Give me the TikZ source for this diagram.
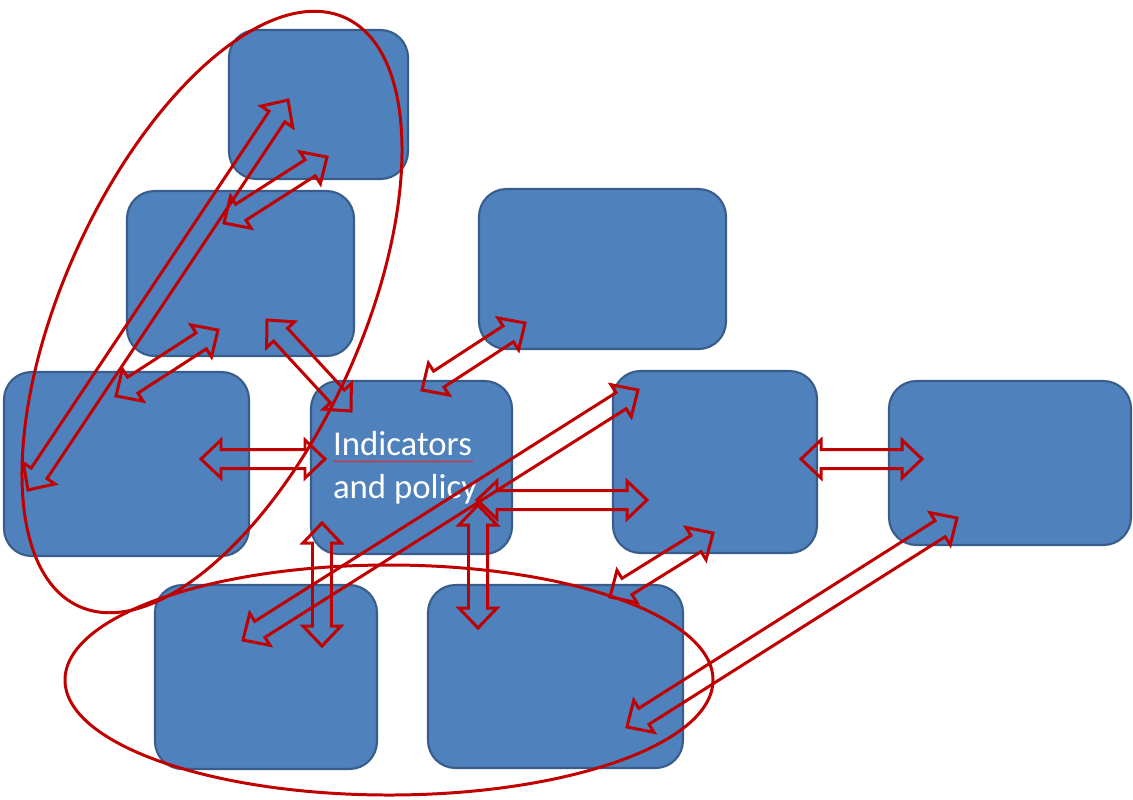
\documentclass[tikz,border=0pt]{standalone}
\usepackage{fontspec}
\setmainfont{Carlito}
\usetikzlibrary{calc,shapes.geometric,decorations.pathmorphing}

\definecolor{boxblue}{HTML}{4F81BD}
\definecolor{boxedge}{HTML}{385D8A}
\definecolor{linkred}{HTML}{C00000}

% outlined two-headed block arrow between two points
\newcommand{\dblarrow}[3]{%
  \coordinate (#1a) at #2;
  \coordinate (#1b) at #3;
  \coordinate (#1p) at ($(#1a)!0.4cm!(#1b)$);
  \coordinate (#1q) at ($(#1b)!0.4cm!(#1a)$);
  \draw[link] (#1a)
    -- ($(#1p)!0.38cm!90:(#1b)$) -- ($(#1p)!0.19cm!90:(#1b)$)
    -- ($(#1q)!0.19cm!-90:(#1a)$) -- ($(#1q)!0.38cm!-90:(#1a)$)
    -- (#1b)
    -- ($(#1q)!0.38cm!90:(#1a)$) -- ($(#1q)!0.19cm!90:(#1a)$)
    -- ($(#1p)!0.19cm!-90:(#1b)$) -- ($(#1p)!0.38cm!-90:(#1b)$)
    -- cycle;}

\begin{document}
\begin{tikzpicture}[
  box/.style={rectangle, rounded corners=0.55cm, draw=boxedge, line width=1.2pt, fill=boxblue},
  group/.style={ellipse, draw=linkred, line width=1.7pt, inner sep=0pt},
  link/.style={draw=linkred, line width=1.7pt, line join=miter},
  squiggle/.style={draw=linkred!80, line width=0.5pt, decorate, decoration={snake, amplitude=0.4pt, segment length=2pt}}
]
\useasboundingbox (0,0) rectangle (22.66,-15.98);

% boxes
\node[box, minimum width=3.58cm, minimum height=2.98cm] (top) at (6.37,-2.09) {};
\node[box, minimum width=4.54cm, minimum height=3.30cm] (upleft) at (4.81,-5.47) {};
\node[box, minimum width=4.94cm, minimum height=3.20cm] (upmid) at (12.05,-5.38) {};
\node[box, minimum width=4.90cm, minimum height=3.68cm] (left) at (2.53,-9.28) {};
\node[box, minimum width=4.02cm, minimum height=3.46cm, text=white, align=flush left, text width=3.14cm,
      font=\fontsize{19.8}{24.5}\selectfont] (ind) at (8.23,-9.35) {Indicators\\and policy};
\node[box, minimum width=4.08cm, minimum height=3.64cm] (right) at (14.30,-9.24) {};
\node[box, minimum width=4.84cm, minimum height=3.28cm] (far) at (20.20,-9.26) {};
\node[box, minimum width=4.44cm, minimum height=3.68cm] (lowleft) at (5.32,-13.54) {};
\node[box, minimum width=5.10cm, minimum height=3.66cm] (lowmid) at (11.11,-13.53) {};

\draw[squiggle] ($(ind.center)+(-1.57,0.12)$) -- ++(2.8,0);

% groupings
\node[group, minimum width=12.92cm, minimum height=5.96cm, rotate=65.7] (g1) at (4.24,-6.24) {};
\node[group, minimum width=12.96cm, minimum height=4.60cm] (g2) at (7.78,-13.60) {};

% links
\dblarrow{l1}{(0.56,-9.80)}{(5.76,-2.00)}
\dblarrow{l2}{(4.48,-4.46)}{(6.54,-3.14)}
\dblarrow{l3}{(2.32,-7.92)}{(4.36,-6.60)}
\dblarrow{l4}{(7.02,-8.22)}{(5.34,-6.40)}
\dblarrow{l5}{(8.44,-7.80)}{(10.50,-6.46)}
\dblarrow{l6}{(4.02,-9.18)}{(6.50,-9.18)}
\dblarrow{l7}{(9.54,-10.00)}{(12.94,-10.00)}
\dblarrow{l8}{(16.02,-9.18)}{(18.44,-9.18)}
\dblarrow{l9}{(4.86,-12.80)}{(12.76,-7.80)}
\dblarrow{l10}{(6.44,-10.46)}{(6.44,-12.92)}
\dblarrow{l11}{(9.56,-10.10)}{(9.56,-12.56)}
\dblarrow{l12}{(12.20,-11.94)}{(14.26,-10.66)}
\dblarrow{l13}{(12.54,-14.54)}{(19.14,-10.36)}
\end{tikzpicture}
\end{document}
